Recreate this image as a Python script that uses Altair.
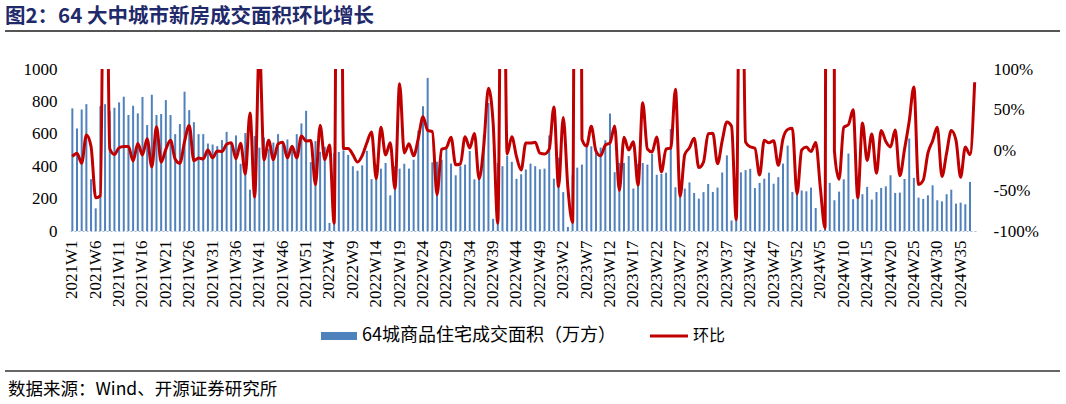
import altair as alt
import pandas as pd

# ---------------- data ----------------
YEARS = [2021, 2022, 2023, 2024]
WEEKS_PER_YEAR = [52, 52, 52, 38]
weeks = [f"{y}W{w}" for y, n in zip(YEARS, WEEKS_PER_YEAR) for w in range(1, n + 1)]
tick_labels = weeks[::5]

# 64城商品住宅成交面积（万方）
area = [
    757, 633, 750, 783, 320, 140, 771, 783, 740, 761,
    794, 829, 716, 773, 726, 827, 654, 841, 716, 722,
    808, 716, 598, 660, 860, 746, 672, 598, 598, 540,
    534, 524, 561, 612, 545, 590, 415, 605, 255, 586,
    515, 577, 508, 546, 598, 540, 565, 510, 598, 664,
    742, 425, 555, 489, 520, 50, 480, 488, 498, 470,
    400, 372, 405, 495, 320, 410, 385, 420, 220, 400,
    385, 415, 385, 440, 620, 770, 945, 424, 428, 440,
    509, 416, 344, 400, 410, 494, 319, 335, 590, 790,
    75, 420, 400, 465, 427, 322, 350, 380, 416, 400,
    381, 385, 590, 323, 453, 240, 25, 345, 391, 410,
    530, 523, 486, 515, 560, 725, 363, 420, 420, 463,
    262, 415, 420, 410, 476, 347, 352, 360, 630, 270,
    255, 262, 300, 235, 200, 240, 290, 241, 268, 361,
    467, 65, 330, 362, 376, 384, 265, 297, 323, 360,
    292, 332, 416, 527, 241, 241, 250, 245, 268, 142,
    5, 300, 297, 190, 243, 319, 478, 196, 261, 227,
    272, 194, 241, 266, 276, 344, 235, 237, 321, 571,
    328, 206, 198, 220, 282, 190, 183, 227, 255, 169,
    175, 165, 303,
]

# 环比 (%)
ratio = [
    -8.0, -4.0, -16.4, 18.5, 4.4, -59.1, -56.3, 450.7, 1.6, -5.5,
    2.8, 4.3, 4.4, -13.6, 8.0, -6.1, 13.9, -20.9, 28.6, -14.9,
    0.8, 11.9, -11.4, -16.5, 10.4, 30.3, -13.3, -9.9, -11.0, 0.0,
    -9.7, -1.1, -1.9, 7.1, 9.1, -10.9, 8.3, -29.7, 45.8, -57.9,
    129.8, -12.1, 12.0, -12.0, 7.5, 9.5, -9.7, 4.6, -9.7, 17.3,
    11.0, 11.7, -42.7, 30.6, -11.9, 6.3, -90.4, 860.0, 1.7, 2.0,
    -5.6, -14.9, -7.0, 8.9, 22.2, -35.4, 28.1, -6.1, 9.1, -47.6,
    81.8, -3.8, 7.8, -7.2, 14.3, 40.9, 24.2, 22.7, -55.1, 0.9,
    2.8, 15.7, -18.3, -17.3, 16.3, 2.5, 20.5, -35.4, 5.0, 76.1,
    33.9, -90.5, 460.0, -4.8, 16.3, -8.2, -24.6, 8.7, 8.6, 9.5,
    -3.8, -4.8, 1.0, 53.2, -45.3, 40.2, -47.0, -89.6, 1280.0, 13.3,
    4.9, 29.3, -1.3, -7.1, 6.0, 8.7, 29.5, -49.9, 15.7, 0.0,
    10.2, -43.4, 58.4, 1.2, -2.4, 16.1, -27.1, 1.4, 2.3, 75.0,
    -57.1, -5.6, 2.7, 14.5, -21.7, -14.9, 20.0, 20.8, -16.9, 11.2,
    34.7, 29.4, -86.1, 407.7, 9.7, 3.9, 2.1, -31.0, 12.1, 8.8,
    11.5, -18.9, 13.7, 25.3, 26.7, -54.3, 0.0, 3.7, -2.0, 9.4,
    -47.0, -96.5, 5900.0, -1.0, -36.0, 27.9, 31.3, 49.8, -59.0, 33.2,
    -13.0, 19.8, -28.7, 24.2, 10.4, 3.8, 24.6, -31.7, 0.9, 35.4,
    77.9, -42.6, -37.2, -3.9, 11.1, 28.2, -32.6, -3.7, 24.0, 12.3,
    -33.7, 3.6, -5.7, 83.6,
]

left_ticks = [0, 200, 400, 600, 800, 1000]
right_ticks = [-100, -50, 0, 50, 100]

title_text = "图2：64 大中城市新房成交面积环比增长"
source_text = "数据来源：Wind、开源证券研究所"
bar_name = "64城商品住宅成交面积（万方）"
line_name = "环比"

BAR_COLOR = "#4F81BD"
LINE_COLOR = "#C00000"
SERIF = "Liberation Serif"
CJK = "Noto Sans CJK SC"

df = pd.DataFrame({"week": weeks, "area": area + [None], "ratio": ratio})

W, H = 907, 162
LEFT, TOP = 70, 69

x_enc = alt.X(
    "week:N",
    sort=weeks,
    scale=alt.Scale(paddingInner=0, paddingOuter=0),
    axis=alt.Axis(
        values=tick_labels,
        labelAngle=270,
        labelFont=SERIF,
        labelFontSize=17,
        labelColor="#000000",
        labelPadding=9,
        labelOverlap=False,
        ticks=False,
        domainColor="#A9BCD6",
        domainDash=[2, 2],
        domainWidth=1,
        title="",
    ),
)

bars = alt.Chart(df).mark_bar(color=BAR_COLOR, width=2).encode(
    x=x_enc,
    y=alt.Y(
        "area:Q",
        scale=alt.Scale(domain=[0, 1000], nice=False),
        axis=alt.Axis(
            orient="left",
            values=left_ticks,
            format="d",
            labelFont=SERIF,
            labelFontSize=17,
            labelColor="#000000",
            labelPadding=13,
            ticks=False,
            domain=False,
            grid=False,
            title="",
        ),
    ),
)

line = alt.Chart(df).mark_line(
    color=LINE_COLOR, strokeWidth=3, interpolate="monotone", clip=True
).encode(
    x=x_enc,
    y=alt.Y(
        "ratio:Q",
        scale=alt.Scale(domain=[-100, 100], nice=False, zero=False),
        axis=alt.Axis(
            orient="right",
            values=right_ticks,
            labelExpr="datum.value + '%'",
            labelFont=SERIF,
            labelFontSize=17,
            labelColor="#000000",
            labelPadding=16,
            ticks=False,
            domain=False,
            grid=False,
            title="",
        ),
    ),
)

one = pd.DataFrame({"k": [0]})

title = alt.Chart(pd.DataFrame({"t": [title_text]})).mark_text(
    font=CJK, fontSize=20.5, fontWeight="bold", color="#1F2A6B", align="left", baseline="middle"
).encode(x=alt.value(5 - LEFT), y=alt.value(17 - TOP), text="t:N")

top_rule = alt.Chart(one).mark_rule(color="#555555", strokeWidth=2).encode(
    x=alt.value(5 - LEFT), x2=alt.value(1060 - LEFT), y=alt.value(31 - TOP)
)
bottom_rule = alt.Chart(one).mark_rule(color="#666666", strokeWidth=2).encode(
    x=alt.value(5 - LEFT), x2=alt.value(1060 - LEFT), y=alt.value(371 - TOP)
)
source = alt.Chart(pd.DataFrame({"t": [source_text]})).mark_text(
    font=CJK, fontSize=17.5, color="#000000", align="left", baseline="middle"
).encode(x=alt.value(8 - LEFT), y=alt.value(390 - TOP), text="t:N")

leg_rect = alt.Chart(one).mark_rect(color=BAR_COLOR).encode(
    x=alt.value(321 - LEFT), x2=alt.value(357 - LEFT), y=alt.value(332 - TOP), y2=alt.value(340 - TOP)
)
leg_text1 = alt.Chart(pd.DataFrame({"t": [bar_name]})).mark_text(
    font=CJK, fontSize=18, color="#000000", align="left", baseline="middle"
).encode(x=alt.value(362 - LEFT), y=alt.value(336 - TOP), text="t:N")
leg_line = alt.Chart(one).mark_rule(color=LINE_COLOR, strokeWidth=3).encode(
    x=alt.value(650 - LEFT), x2=alt.value(688 - LEFT), y=alt.value(336 - TOP)
)
leg_text2 = alt.Chart(pd.DataFrame({"t": [line_name]})).mark_text(
    font=CJK, fontSize=16, color="#000000", align="left", baseline="middle"
).encode(x=alt.value(693 - LEFT), y=alt.value(336 - TOP), text="t:N")

chart = alt.layer(
    bars, line, title, top_rule, bottom_rule, source, leg_rect, leg_text1, leg_line, leg_text2
).resolve_scale(y="independent").properties(
    width=W,
    height=H,
    autosize=alt.AutoSizeParams(type="none"),
    padding={"left": LEFT, "top": TOP, "right": 1066 - LEFT - W, "bottom": 404 - TOP - H},
).configure_view(strokeWidth=0).configure_axis(grid=False)

chart.save("out.html", embed_options={"renderer": "svg", "actions": False})
